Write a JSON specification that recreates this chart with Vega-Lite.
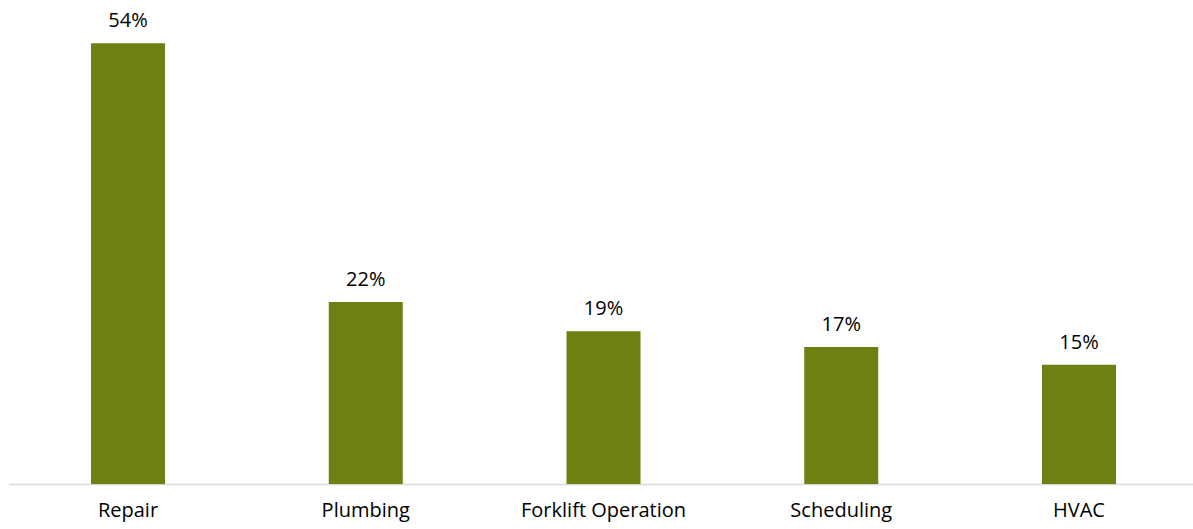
{
  "$schema": "https://vega.github.io/schema/vega-lite/v6.json",
  "autosize": {"type": "none"},
  "width": 1184,
  "height": 484,
  "padding": {"left": 9, "top": 0, "right": 0, "bottom": 45},
  "background": "white",
  "data": {"values": [
    {"skill": "Repair", "pct": 0.54},
    {"skill": "Plumbing", "pct": 0.223},
    {"skill": "Forklift Operation", "pct": 0.187},
    {"skill": "Scheduling", "pct": 0.168},
    {"skill": "HVAC", "pct": 0.146}
  ]},
  "config": {"view": {"stroke": null}, "font": "Open Sans"},
  "encoding": {
    "x": {"field": "skill", "type": "nominal", "sort": null,
      "scale": {"paddingInner": 0.6887, "paddingOuter": 0.345, "range": [0, 1189]},
      "axis": {"title": null, "labelAngle": 0, "ticks": false, "domainColor": "#d9d9d9", "domainWidth": 1.5,
        "labelFontSize": 20, "labelColor": "#000000", "labelPadding": 16, "labelFont": "Open Sans"}},
    "y": {"field": "pct", "type": "quantitative", "scale": {"domain": [0, 0.593]}, "axis": null}
  },
  "layer": [
    {"mark": {"type": "bar", "color": "#6F7F12"}},
    {"mark": {"type": "text", "dy": -12, "baseline": "bottom", "fontSize": 20, "font": "Open Sans", "color": "#000000"},
     "encoding": {"text": {"field": "pct", "type": "quantitative", "format": ".0%"}}}
  ]
}
